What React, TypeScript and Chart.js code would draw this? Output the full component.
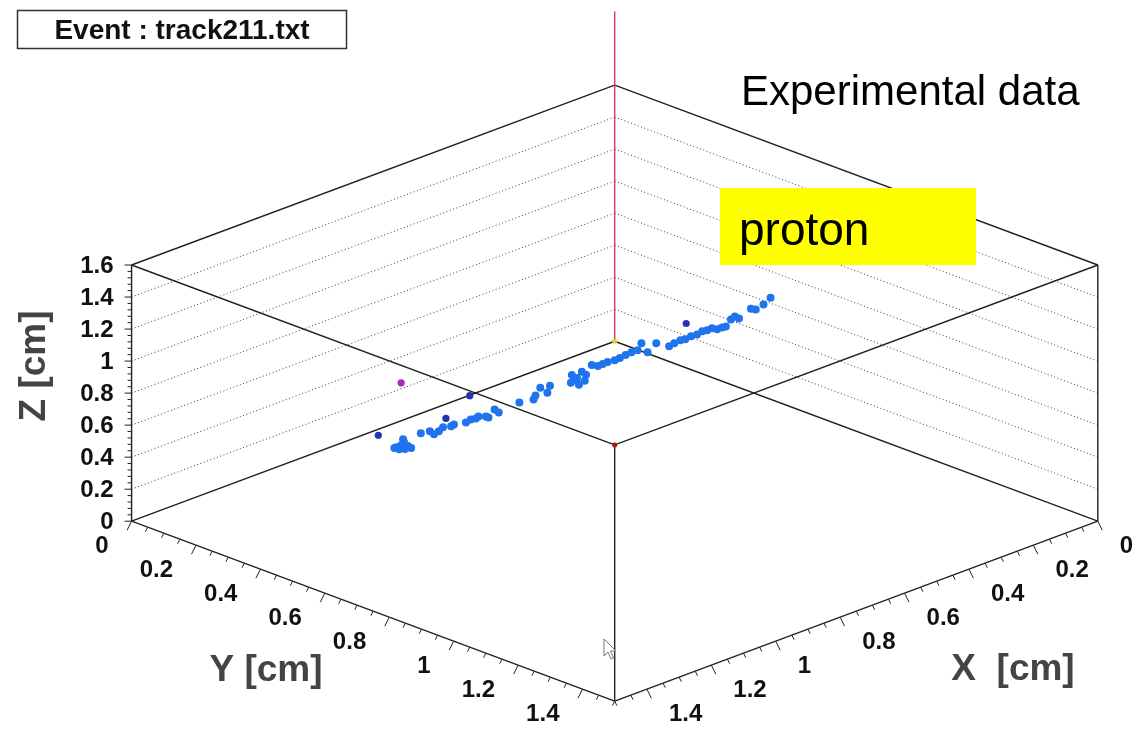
import React, { useEffect, useRef } from 'react';
import { Chart, registerables } from 'chart.js';
Chart.register(...registerables);

// ---------- data (cm) ----------
const trackX = [
  1.121, 1.114, 1.118, 1.105, 1.077, 1.088, 1.115, 1.105, 1.108, 1.038,
  1.029, 1.035, 1.022, 0.999, 0.989, 0.983, 0.963, 0.950, 0.944, 0.932,
  0.927, 0.927, 0.891, 0.904, 0.844, 0.823, 0.810, 0.770, 0.786, 0.760,
  0.694, 0.716, 0.705, 0.679, 0.685, 0.728, 0.731, 0.712, 0.642, 0.643,
  0.634, 0.618, 0.606, 0.596, 0.581, 0.560, 0.549, 0.555, 0.511, 0.510,
  0.496, 0.481, 0.476, 0.455, 0.444, 0.430, 0.425, 0.409, 0.412, 0.403,
  0.393, 0.363, 0.344, 0.353, 0.300, 0.303, 0.277, 0.244, 0.521,
];
const trackY = [
  0.437, 0.436, 0.449, 0.442, 0.420, 0.434, 0.464, 0.463, 0.476, 0.436,
  0.455, 0.474, 0.476, 0.466, 0.481, 0.484, 0.501, 0.503, 0.513, 0.509,
  0.527, 0.535, 0.518, 0.544, 0.548, 0.571, 0.564, 0.539, 0.577, 0.559,
  0.561, 0.593, 0.588, 0.577, 0.596, 0.592, 0.620, 0.619, 0.571, 0.591,
  0.597, 0.596, 0.606, 0.612, 0.615, 0.612, 0.620, 0.657, 0.640, 0.679,
  0.681, 0.685, 0.695, 0.692, 0.700, 0.702, 0.712, 0.711, 0.730, 0.736,
  0.738, 0.724, 0.717, 0.739, 0.723, 0.741, 0.739, 0.728, 0.604,
];
const trackZ = [
  0.50, 0.50, 0.50, 0.51, 0.51, 0.51, 0.51, 0.52, 0.52, 0.53,
  0.55, 0.55, 0.56, 0.56, 0.57, 0.58, 0.59, 0.60, 0.61, 0.61,
  0.62, 0.62, 0.63, 0.64, 0.66, 0.68, 0.69, 0.69, 0.70, 0.71,
  0.73, 0.74, 0.74, 0.75, 0.75, 0.73, 0.74, 0.75, 0.76, 0.77,
  0.78, 0.78, 0.79, 0.80, 0.81, 0.81, 0.82, 0.84, 0.85, 0.86,
  0.87, 0.88, 0.89, 0.89, 0.90, 0.91, 0.92, 0.92, 0.93, 0.94,
  0.94, 0.95, 0.95, 0.96, 0.97, 0.98, 0.99, 1.00, 0.83,
];
const darkX = [0.852, 1.079, 0.964, 0.409];
const darkY = [0.402, 0.345, 0.440, 0.631];
const darkZ = [0.60, 0.48, 0.57, 0.89];
const strayX = [0.905];
const strayY = [0.242];
const strayZ = [0.60];

const zTickValues = [0, 0.2, 0.4, 0.6, 0.8, 1.0, 1.2, 1.4, 1.6];
const zTickLabels = ['0', '0.2', '0.4', '0.6', '0.8', '1', '1.2', '1.4', '1.6'];
const xyTickValues = [0, 0.2, 0.4, 0.6, 0.8, 1.0, 1.2, 1.4];
const xyTickLabels = ['0', '0.2', '0.4', '0.6', '0.8', '1', '1.2', '1.4'];

const XY_MAX = 1.5;
const Z_MAX = 1.6;
const Z_MINOR = 0.04;
const XY_MINOR = 0.05;
const Z_LINE_TOP = 2.06;

// projection: horizontal = y - x, vertical = z - DEPTH*(x+y)
const DEPTH = 0.7492;
const H_MIN = -1.8961, H_MAX = 1.6248;
const V_MIN = -2.4089, V_MAX = 2.1062;

const projH = (x: number, y: number) => y - x;
const projV = (x: number, y: number, z: number) => z - DEPTH * (x + y);

const toPoints = (xs: number[], ys: number[], zs: number[]) =>
  xs.map((x, i) => ({ x: projH(x, ys[i]), y: projV(x, ys[i], zs[i]) }));

const FONT = "'Liberation Sans', Arial, Helvetica, sans-serif";

const boxPlugin = {
  id: 'box3d',
  beforeDatasetsDraw(chart: any) {
    const { ctx, scales } = chart;
    const P = (x: number, y: number, z: number): [number, number] => [
      scales.x.getPixelForValue(projH(x, y)),
      scales.y.getPixelForValue(projV(x, y, z)),
    ];
    const line = (a: [number, number], b: [number, number]) => {
      ctx.beginPath();
      ctx.moveTo(a[0], a[1]);
      ctx.lineTo(b[0], b[1]);
      ctx.stroke();
    };
    ctx.save();
    // dotted grid on back walls
    ctx.strokeStyle = '#3a3a3a';
    ctx.lineWidth = 1;
    ctx.setLineDash([1, 2.5]);
    zTickValues.forEach((z) => {
      if (z <= 0 || z >= Z_MAX) return;
      line(P(XY_MAX, 0, z), P(0, 0, z));
      line(P(0, 0, z), P(0, XY_MAX, z));
    });
    ctx.setLineDash([]);
    // box edges
    ctx.strokeStyle = '#222';
    ctx.lineWidth = 1.4;
    const M = XY_MAX;
    [0, Z_MAX].forEach((z) => {
      line(P(M, 0, z), P(0, 0, z));
      line(P(0, 0, z), P(0, M, z));
      line(P(0, M, z), P(M, M, z));
      line(P(M, M, z), P(M, 0, z));
    });
    line(P(M, 0, 0), P(M, 0, Z_MAX));
    line(P(0, M, 0), P(0, M, Z_MAX));
    line(P(M, M, 0), P(M, M, Z_MAX));
    // back vertical (red)
    ctx.strokeStyle = '#d63a55';
    ctx.lineWidth = 1.4;
    line(P(0, 0, 0), P(0, 0, Z_LINE_TOP));
    // corner markers
    let p = P(0, 0, 0);
    ctx.fillStyle = '#c8dc30';
    ctx.beginPath(); ctx.arc(p[0], p[1], 2.5, 0, Math.PI * 2); ctx.fill();
    p = P(M, M, Z_MAX);
    ctx.fillStyle = '#a01818';
    ctx.beginPath(); ctx.arc(p[0], p[1], 2.5, 0, Math.PI * 2); ctx.fill();

    // Z ticks
    ctx.strokeStyle = '#222';
    ctx.lineWidth = 1;
    for (let z = 0; z <= Z_MAX + 1e-6; z += Z_MINOR) {
      const q = P(M, 0, z);
      const major = Math.abs(z / 0.2 - Math.round(z / 0.2)) < 1e-6;
      line(q, [q[0] - (major ? 7 : 4), q[1]]);
    }
    // X / Y ticks on the front floor edges
    for (let v = 0; v <= XY_MAX + 1e-6; v += XY_MINOR) {
      const major = Math.abs(v / 0.2 - Math.round(v / 0.2)) < 1e-6;
      const L = major ? 10 : 5;
      const q = P(M, v, 0);
      line(q, [q[0] - 0.45 * L, q[1] + 0.9 * L]);
      const r = P(v, M, 0);
      line(r, [r[0] + 0.45 * L, r[1] + 0.9 * L]);
    }
    // tick labels
    ctx.fillStyle = '#111';
    ctx.font = `bold 24px ${FONT}`;
    ctx.textBaseline = 'middle';
    ctx.textAlign = 'right';
    zTickValues.forEach((z, i) => {
      const q = P(M, 0, z);
      ctx.fillText(zTickLabels[i], q[0] - 18, q[1] + 1);
    });
    xyTickValues.forEach((v, i) => {
      const q = P(M, v, 0);
      ctx.textAlign = 'right';
      ctx.fillText(xyTickLabels[i], q[0] - 23, q[1] + 25);
      const r = P(v, M, 0);
      ctx.textAlign = 'left';
      ctx.fillText(xyTickLabels[i], r[0] + 22, r[1] + 25);
    });
    // axis titles
    ctx.fillStyle = '#444';
    ctx.font = `bold 37px ${FONT}`;
    ctx.textAlign = 'center';
    ctx.fillText('Y [cm]', 266, 671);
    ctx.fillText('X  [cm]', 1013, 670);
    ctx.save();
    ctx.translate(35, 366);
    ctx.rotate(-Math.PI / 2);
    ctx.fillText('Z [cm]', 0, 0);
    ctx.restore();
    ctx.restore();
  },
  afterDraw(chart: any) {
    const { ctx } = chart;
    ctx.save();
    // title box
    ctx.fillStyle = '#fff';
    ctx.fillRect(17, 10, 330, 39);
    ctx.strokeStyle = '#333';
    ctx.lineWidth = 1.5;
    ctx.strokeRect(17.5, 10.5, 329, 38);
    ctx.fillStyle = '#111';
    ctx.font = `bold 28px ${FONT}`;
    ctx.textAlign = 'center';
    ctx.textBaseline = 'middle';
    ctx.fillText('Event : track211.txt', 182, 31);
    // annotations
    ctx.textAlign = 'left';
    ctx.textBaseline = 'alphabetic';
    ctx.font = `42px ${FONT}`;
    ctx.fillStyle = '#000';
    ctx.fillText('Experimental data', 741, 105);
    ctx.fillStyle = '#ffff00';
    ctx.fillRect(720, 188, 256, 77);
    ctx.fillStyle = '#000';
    ctx.font = `46px ${FONT}`;
    ctx.fillText('proton', 739, 245);
    // mouse cursor
    const tx = 604, ty = 639;
    const pts = [[0, 0], [0, 17], [4, 13], [7, 20], [9.5, 19], [6.5, 12], [12, 12]];
    ctx.beginPath();
    pts.forEach(([a, b], i) => (i ? ctx.lineTo(tx + a, ty + b) : ctx.moveTo(tx + a, ty + b)));
    ctx.closePath();
    ctx.fillStyle = '#fff';
    ctx.fill();
    ctx.strokeStyle = '#777';
    ctx.lineWidth = 1;
    ctx.stroke();
    ctx.restore();
  },
};

export default function App() {
  const ref = useRef<HTMLCanvasElement | null>(null);
  useEffect(() => {
    if (!ref.current) return;
    const chart = new Chart(ref.current, {
      type: 'scatter',
      data: {
        datasets: [
          {
            label: 'track',
            data: toPoints(trackX, trackY, trackZ),
            backgroundColor: '#1f74ee',
            borderWidth: 0,
            pointRadius: 4,
          },
          {
            label: 'hits',
            data: toPoints(darkX, darkY, darkZ),
            backgroundColor: '#2433b0',
            borderWidth: 0,
            pointRadius: 3.6,
          },
          {
            label: 'stray',
            data: toPoints(strayX, strayY, strayZ),
            backgroundColor: '#a02fb0',
            borderWidth: 0,
            pointRadius: 3.6,
          },
        ],
      },
      options: {
        animation: false,
        responsive: false,
        layout: { padding: 0 },
        plugins: { legend: { display: false }, tooltip: { enabled: false } },
        scales: {
          x: { type: 'linear', min: H_MIN, max: H_MAX, display: false },
          y: { type: 'linear', min: V_MIN, max: V_MAX, display: false },
        },
      },
      plugins: [boxPlugin],
    });
    return () => chart.destroy();
  }, []);
  return (
    <div style={{ position: 'fixed', left: 0, top: 0, width: 1142, height: 731, background: '#fff' }}>
      <canvas ref={ref} width={1142} height={731} />
    </div>
  );
}
